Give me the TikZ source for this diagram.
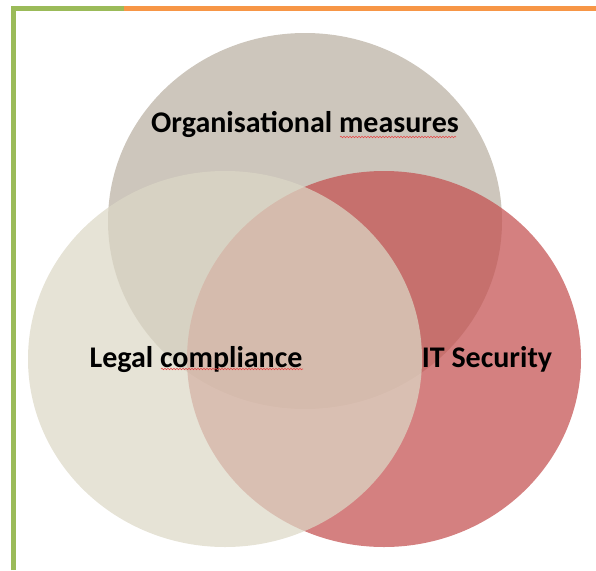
\documentclass[tikz,border=0pt]{standalone}
\usepackage{fontspec}
\setmainfont{Carlito}
\usetikzlibrary{shapes.geometric,decorations.pathmorphing}
\definecolor{orgcol}{RGB}{205,198,188}
\definecolor{legalcol}{RGB}{220,216,198}
\definecolor{itcol}{RGB}{196,81,81}
\definecolor{framegreen}{RGB}{155,187,89}
\definecolor{frameorange}{RGB}{247,150,70}
\definecolor{spellred}{RGB}{232,70,70}
\begin{document}
\begin{tikzpicture}[x=1pt, y=-1pt,
    set/.style = {ellipse, minimum width = 394pt, minimum height = 376pt, inner sep = 0pt},
    setlabel/.style = {anchor=base, inner sep=0pt, font=\fontsize{30}{31}\selectfont\bfseries},
    squiggle/.style = {spellred, line width=0.6pt, decorate, decoration={snake, segment length=3pt, amplitude=0.7pt}}]

        \useasboundingbox (0,0) rectangle (596,570);

        % frame
        \draw[line width=4.5pt, framegreen] (13.5,570) -- (13.5,8.5) -- (124,8.5);
        \draw[line width=4.5pt, frameorange] (124,8.5) -- (596,8.5);

        \node[set, fill=orgcol] (org) at (305,221) {};
        \node[set, fill=itcol, fill opacity=0.73] (it) at (384,359) {};
        \node[set, fill=legalcol, fill opacity=0.72] (legal) at (225,359) {};

        \node[setlabel] (orgtext) at (305,132) {Organisational measures};
        \node[setlabel] (legaltext) at (196,367) {Legal compliance};
        \node[setlabel] (ittext) at (487,367) {IT Security};

        \draw[squiggle] (340,137) -- (456,137);
        \draw[squiggle] (161,369) -- (303,369);

    \end{tikzpicture}
\end{document}
